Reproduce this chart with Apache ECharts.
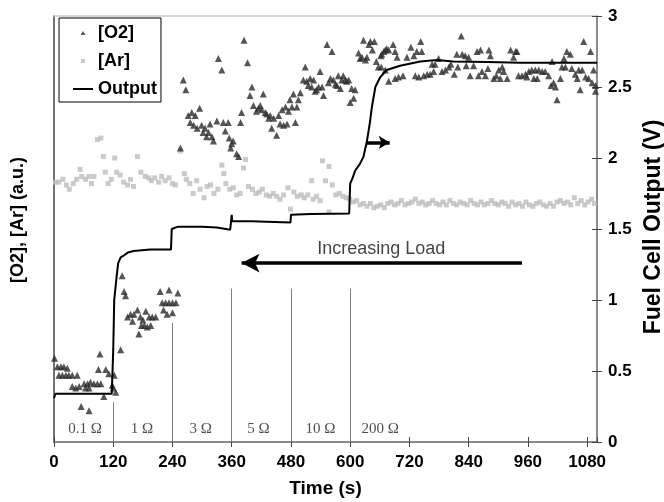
<!DOCTYPE html>
<html><head><meta charset="utf-8">
<script src="https://cdn.jsdelivr.net/npm/echarts@6/dist/echarts.min.js"></script>
<style>html,body{margin:0;padding:0;background:#fff}#c{width:664px;height:502px}</style>
</head><body><div id="c"></div>
<script>
// ---- data ----
const xTicks = [0,120,240,360,480,600,720,840,960,1080];
const yTicks = [0,0.5,1,1.5,2,2.5,3];
const o2Data = [
[1,0.59],[7,0.53],[10,0.47],[14,0.53],[17,0.47],[20,0.53],[24,0.47],[27,0.52],[30,0.47],[37,0.47],[37,0.39],[44,0.38],[47,0.47],[51,0.39],[55,0.25],[61,0.41],[64,0.38],[68,0.41],[71,0.38],[71,0.22],[74,0.42],[81,0.41],[88,0.41],[90,0.51],[93,0.62],[95,0.41],[101,0.32],[105,0.51],[111,0.48],[118,0.40],[120,0.38],[122,0.47],[125,0.35],
[135,0.65],[138,1.17],[142,1.06],[145,1.03],[149,0.88],[155,0.90],[159,0.85],[162,0.90],[169,0.93],[172,0.76],[175,0.88],[177,0.82],[180,0.86],[183,0.82],[186,0.92],[189,0.81],[193,0.88],[196,0.82],[199,0.88],[206,0.88],[215,1.06],[219,0.98],[222,0.93],[226,0.98],[229,0.90],[233,1.07],[233,0.98],[240,0.98],[240,0.91],[247,0.98],[251,1.05],
[256,2.07],[262,2.55],[267,2.48],[272,2.30],[276,2.25],[279,2.32],[283,2.23],[286,2.30],[290,2.21],[295,2.35],[299,2.23],[302,2.18],[306,2.21],[309,2.15],[313,2.18],[316,2.24],[320,2.15],[323,2.12],[330,2.26],[333,2.70],[340,2.62],[343,2.25],[347,2.19],[353,2.25],[355,2.14],[358,2.07],[360,2.10],[363,2.12],[370,2.03],[374,2.01],[378,2.25],[380,2.32],[385,2.83],[392,2.67],[397,2.44],[401,2.50],[404,2.37],[410,2.33],[414,2.35],[418,2.37],[421,2.34],[424,2.45],[428,2.32],[431,2.31],[435,2.28],[438,2.30],[441,2.21],[445,2.28],[451,2.16],[455,2.30],[458,2.24],[462,2.34],[465,2.23],[469,2.36],[472,2.24],[475,2.33],[478,2.41],[482,2.36],[485,2.45],[489,2.25],[492,2.36],[495,2.41],[499,2.46],[505,2.55],[509,2.64],[512,2.54],[515,2.51],[519,2.56],[522,2.50],[526,2.55],[529,2.47],[532,2.48],[536,2.50],[539,2.61],[543,2.50],[546,2.44],[553,2.80],[556,2.53],[560,2.56],[563,2.75],[566,2.55],[570,2.52],[573,2.51],[576,2.58],[580,2.49],[583,2.55],[586,2.58],[590,2.55],[593,2.54],[597,2.55],[600,2.39],[603,2.49],[607,2.42],[610,2.48],[617,2.74],[620,2.70],[624,2.71],[627,2.83],[631,2.69],[634,2.71],[638,2.80],[641,2.82],[645,2.76],[649,2.82],[653,2.68],[657,2.64],[662,2.72],[668,2.75],[671,2.62],[674,2.77],[678,2.54],
[663,2.64],[664,2.73],[671,2.76],[678,2.76],[687,2.80],[691,2.75],[691,2.56],[695,2.71],[698,2.57],[707,2.58],[715,2.71],[723,2.78],[729,2.72],[732,2.58],[735,2.75],[739,2.57],[743,2.82],[745,2.75],[749,2.58],[756,2.59],[762,2.59],[766,2.66],[769,2.61],[772,2.66],[779,2.70],[786,2.61],[793,2.62],[800,2.64],[804,2.66],[811,2.59],[816,2.73],[818,2.64],[825,2.86],[827,2.73],[833,2.72],[835,2.65],[840,2.71],[843,2.58],[850,2.65],[857,2.75],[860,2.58],[864,2.76],[867,2.61],[874,2.58],[879,2.63],[881,2.76],[884,2.72],[891,2.56],[896,2.58],[901,2.62],[904,2.56],[908,2.64],[911,2.61],[918,2.56],[925,2.76],[931,2.71],[935,2.75],[938,2.75],[941,2.58],[948,2.58],[955,2.59],[958,2.57],[962,2.61],[968,2.62],[972,2.56],[975,2.62],[979,2.56],[982,2.62],[989,2.61],[995,2.61],[1002,2.58],[1007,2.51],[1009,2.68],[1012,2.53],[1016,2.50],[1019,2.41],[1026,2.56],[1029,2.64],[1033,2.70],[1036,2.64],[1039,2.75],[1046,2.73],[1049,2.63],[1056,2.59],[1060,2.56],[1063,2.62],[1066,2.48],[1070,2.62],[1073,2.82],[1077,2.57],[1083,2.56],[1087,2.75],[1090,2.53],[1093,2.62],[1097,2.51],[1097,2.47]
];
const arData = [
[3,1.83],[10,1.83],[18,1.85],[25,1.81],[31,1.78],[39,1.82],[46,1.85],[53,1.92],[56,1.87],[64,1.85],[71,1.87],[76,1.82],[81,1.87],[88,2.13],[95,2.14],[100,2.01],[104,1.90],[110,1.82],[116,1.85],[123,2.00],[127,1.90],[134,1.88],[141,1.83],[149,1.81],[155,1.85],[161,1.80],[169,2.01],[176,1.90],[185,1.87],[192,1.86],[197,1.84],[204,1.86],[212,1.83],[218,1.87],[225,1.84],[233,1.86],[240,1.82],[246,1.81],[256,2.05],[264,1.89],[268,1.85],[275,1.82],[282,1.75],[289,1.84],[296,1.78],[304,1.72],[310,1.80],[317,1.81],[324,1.75],[332,1.78],[340,1.95],[344,1.89],[348,1.82],[356,1.78],[363,1.79],[370,1.74],[377,1.75],[384,1.93],[388,1.99],[394,1.80],[402,1.78],[409,1.75],[416,1.76],[422,1.78],[430,1.74],[437,1.73],[444,1.75],[451,1.73],[458,1.71],[465,1.74],[474,1.79],[479,1.64],[486,1.76],[493,1.73],[501,1.74],[507,1.72],[514,1.74],[522,1.84],[525,1.71],[532,1.73],[539,1.70],[544,1.98],[550,1.84],[557,1.94],[557,1.62],[564,1.81],[571,1.74],[578,1.75],[585,1.73],[592,1.72],[599,1.71],[606,1.69],
[613,1.70],[620,1.67],[627,1.68],[634,1.66],[641,1.68],[648,1.65],[655,1.66],[662,1.67],[669,1.65],[676,1.68],[683,1.69],[690,1.67],[697,1.68],[704,1.70],[711,1.67],[718,1.68],[725,1.69],[732,1.71],[739,1.68],[746,1.69],[753,1.67],[760,1.68],[767,1.70],[774,1.68],[781,1.67],[788,1.69],[795,1.67],[802,1.70],[809,1.68],[816,1.67],[823,1.69],[830,1.68],[837,1.67],[844,1.70],[851,1.68],[858,1.67],[865,1.69],[872,1.67],[879,1.68],[886,1.70],[893,1.68],[900,1.67],[907,1.69],[914,1.68],[921,1.66],[928,1.69],[935,1.67],[942,1.68],[949,1.66],[956,1.69],[963,1.67],[970,1.66],[977,1.68],[984,1.69],[991,1.67],[998,1.66],[1005,1.68],[1012,1.66],[1019,1.69],[1026,1.70],[1033,1.68],[1040,1.69],[1047,1.67],[1054,1.72],[1061,1.68],[1068,1.70],[1075,1.67],[1082,1.69],[1089,1.71],[1095,1.68]
];
const outputData = [
[0,0.31],[3,0.34],[60,0.34],[117,0.34],[119,0.35],[120,0.65],[122,1.0],[127,1.17],[130,1.26],[135,1.30],[140,1.31],[150,1.335],[161,1.345],[195,1.355],[237,1.355],[238.5,1.50],[242,1.51],[250,1.515],[300,1.515],[330,1.51],[357,1.495],[359,1.495],[360,1.60],[361,1.555],[400,1.555],[479,1.545],[480,1.60],[520,1.605],[598,1.61],[600,1.82],[605,1.86],[610,1.91],[620,1.96],[627,2.01],[634,2.12],[640,2.25],[644,2.36],[651,2.50],[661,2.57],[674,2.62],[701,2.65],[742,2.68],[776,2.69],[809,2.68],[877,2.676],[945,2.67],[1012,2.67],[1100,2.67]
];
const boundaryTimes = [120,240,360,480,600];
const boundaryTops = [0.28,0.84,1.08,1.08,1.08];
const loadLabels = ['0.1 Ω','1 Ω','3 Ω','5 Ω','10 Ω','200 Ω'];
const loadLabelTimes = [63,178,297,414,540,661];
const loadLabelLevel = 0.09;
const loadArrow = {from:[948,1.26], to:[380,1.26], text:'Increasing Load', textAt:[663,1.36]};
const outputArrow = {from:[634,2.11], to:[680,2.11]};

// ---- chart ----
const chart = echarts.init(document.getElementById('c'), null, {renderer:'canvas'});
const sans = 'Arial, "Liberation Sans", Helvetica, sans-serif';
const serif = '"Times New Roman", "Liberation Serif", serif';
const markLines = boundaryTimes.map((t,i)=>[
  {coord:[t,0], symbol:'none', lineStyle:{color:'#808080', width:1, type:'solid'}},
  {coord:[t,boundaryTops[i]], symbol:'none'}
]);
markLines.push([
  {coord:loadArrow.from, symbol:'none', lineStyle:{color:'#000', width:3.5, type:'solid'}},
  {coord:loadArrow.to, symbol:'arrow', symbolSize:[14,18]}
]);
markLines.push([
  {coord:outputArrow.from, symbol:'none', lineStyle:{color:'#000', width:3.5, type:'solid'}},
  {coord:outputArrow.to, symbol:'arrow', symbolSize:[10,11]}
]);
const option = {
  animation:false,
  grid:{left:54, right:67, top:16, bottom:60, containLabel:false, outerBoundsMode:'none'},
  legend:{
    data:[
      {name:'[O2]', icon:'path://M0,0 M20,10 M7.5,7 L12.5,7 L10,3 Z'},
      {name:'[Ar]', icon:'path://M0,0 M20,10 M8,3 L12,3 L12,7 L8,7 Z'},
      {name:'Output', icon:'path://M0,0 M20,10 M0,4 L20,4 L20,6 L0,6 Z'}
    ],
    orient:'vertical', left:59, top:18,
    padding:[6,4,4,14], itemGap:10, itemWidth:20, itemHeight:10,
    borderColor:'#000', borderWidth:1, borderRadius:0,
    textStyle:{fontFamily:sans, fontWeight:'bold', fontSize:18, color:'#000'}
  },
  xAxis:[
    {type:'value', position:'bottom', min:0, max:1100, interval:120,
     name:'Time (s)', nameLocation:'middle', nameGap:37,
     nameTextStyle:{fontFamily:sans, fontWeight:'bold', fontSize:19, color:'#000'},
     axisLine:{show:true, onZero:false, lineStyle:{color:'#666', width:1.5}},
     axisTick:{show:true, inside:false, length:5, lineStyle:{color:'#444'}},
     axisLabel:{fontFamily:sans, fontWeight:'bold', fontSize:17, color:'#000', margin:12, showMaxLabel:false,
       formatter:v=> xTicks.includes(v) ? String(v) : ''},
     splitLine:{show:false}},
    {type:'value', position:'top', min:0, max:1100,
     axisLine:{show:true, onZero:false, lineStyle:{color:'#c8c8c8', width:1.5}}, axisTick:{show:false},
     axisLabel:{show:false}, splitLine:{show:false}},
    {type:'value', position:'bottom', min:0, max:1100, interval:120,
     axisLine:{show:false, onZero:false}, axisTick:{show:true, inside:true, length:5, lineStyle:{color:'#444'}},
     axisLabel:{show:false}, splitLine:{show:false}}
  ],
  yAxis:[
    {type:'value', position:'right', min:0, max:3, interval:0.5,
     name:'Fuel Cell Output (V)', nameLocation:'middle', nameGap:44, nameRotate:90,
     nameTextStyle:{fontFamily:sans, fontWeight:'bold', fontSize:23, color:'#000', padding:[0,0,0,4]},
     axisLine:{show:true, onZero:false, lineStyle:{color:'#666', width:1.5}},
     axisTick:{show:true, inside:false, length:5, lineStyle:{color:'#444'}},
     axisLabel:{fontFamily:sans, fontWeight:'bold', fontSize:17, color:'#000', margin:11,
       formatter:v=> yTicks.includes(v) ? String(v) : ''},
     splitLine:{show:false}},
    {type:'value', position:'left', min:0, max:3,
     name:'[O2], [Ar] (a.u.)', nameLocation:'middle', nameGap:27, nameRotate:90,
     nameTextStyle:{fontFamily:sans, fontWeight:'bold', fontSize:18, color:'#000', padding:[0,0,0,18]},
     axisLine:{show:true, onZero:false, lineStyle:{color:'#444', width:1.5}}, axisTick:{show:false},
     axisLabel:{show:false}, splitLine:{show:false}},
    {type:'value', position:'right', min:0, max:3, interval:0.5,
     axisLine:{show:false, onZero:false}, axisTick:{show:true, inside:true, length:5, lineStyle:{color:'#444'}},
     axisLabel:{show:false}, splitLine:{show:false}}
  ],
  series:[
    {name:'[O2]', type:'scatter', xAxisIndex:0, yAxisIndex:0, data:o2Data,
     symbol:'triangle', symbolSize:7, itemStyle:{color:'#2b2b2b'}, z:4},
    {name:'[Ar]', type:'scatter', xAxisIndex:0, yAxisIndex:0, data:arData,
     symbol:'rect', symbolSize:5, itemStyle:{color:'#bdbdbd'}, z:3},
    {name:'Output', type:'line', xAxisIndex:0, yAxisIndex:0, data:outputData,
     symbol:'none', smooth:false, lineStyle:{color:'#000', width:2}, itemStyle:{color:'#000'}, z:5,
     markLine:{silent:true, symbol:'none', label:{show:false}, animation:false, data:markLines, z:2}},
    {type:'scatter', xAxisIndex:0, yAxisIndex:0, symbolSize:0, silent:true,
     data:loadLabelTimes.map((t,i)=>({value:[t,loadLabelLevel], label:{formatter:loadLabels[i]}})),
     label:{show:true, position:'inside', fontFamily:serif, fontSize:15, color:'#222'}},
    {type:'scatter', xAxisIndex:0, yAxisIndex:0, symbolSize:0, silent:true,
     data:[{value:loadArrow.textAt, label:{formatter:loadArrow.text}}],
     label:{show:true, position:'inside', fontFamily:sans, fontSize:18, color:'#111'}}
  ]
};
chart.setOption(option);
</script></body></html>
